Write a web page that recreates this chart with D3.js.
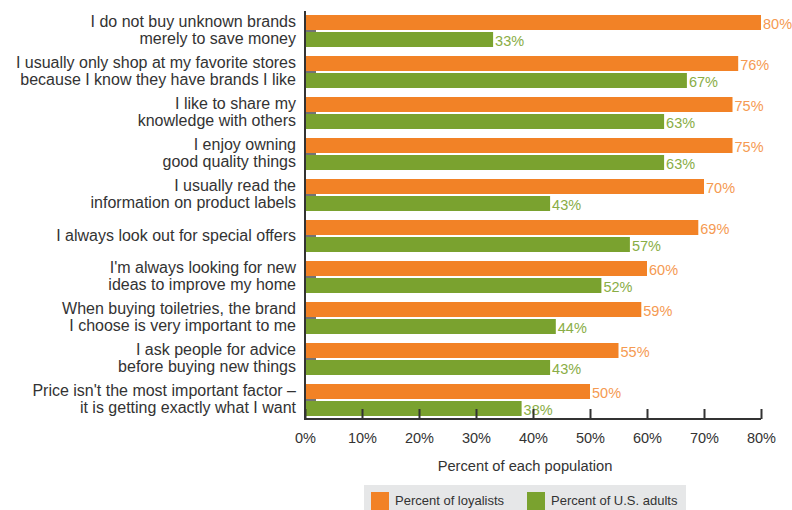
<!DOCTYPE html>
<html>
<head>
<meta charset="utf-8">
<title>Loyalists vs U.S. adults</title>
<script src="https://d3js.org/d3.v7.min.js"></script>
<style>
  body { margin: 0; background: #fff; }
  text { font-family: "Liberation Sans", Arial, sans-serif; }
</style>
</head>
<body>
<div id="chart"></div>
<script>
// ---- data ----
const categories = [
  ["I do not buy unknown brands", "merely to save money"],
  ["I usually only shop at my favorite stores", "because I know they have brands I like"],
  ["I like to share my", "knowledge with others"],
  ["I enjoy owning", "good quality things"],
  ["I usually read the", "information on product labels"],
  ["I always look out for special offers"],
  ["I'm always looking for new", "ideas to improve my home"],
  ["When buying toiletries, the brand", "I choose is very important to me"],
  ["I ask people for advice", "before buying new things"],
  ["Price isn't the most important factor \u2013", "it is getting exactly what I want"]
];
const loyalists = [80, 76, 75, 75, 70, 69, 60, 59, 55, 50];
const usAdults  = [33, 67, 63, 63, 43, 57, 52, 44, 43, 38];
const xTicks = [0, 10, 20, 30, 40, 50, 60, 70, 80];
const seriesNames = ["Percent of loyalists", "Percent of U.S. adults"];

// ---- layout ----
const W = 792, H = 510;
const plotL = 305, plotR = 761, plotT = 11, plotB = 419;
const orange = "#f28226", green = "#7aa22f";
const orangeText = "#f59a52", greenText = "#89ad45";

const svg = d3.select("#chart").append("svg")
  .attr("width", W).attr("height", H);

const x = d3.scaleLinear().domain([0, 80]).range([plotL, plotR]);
// step 41px, two 15px bars with a 2px gap
const y = d3.scaleBand().domain(d3.range(categories.length))
  .range([15, 416]).paddingInner(9 / 41).paddingOuter(0);

const barH = (y.bandwidth() - 2) / 2;

// category ticks (behind bars)
svg.append("g").selectAll("line")
  .data(d3.range(categories.length)).join("line")
  .attr("x1", plotL).attr("x2", plotL + 11)
  .attr("y1", i => y(i) + barH + 1).attr("y2", i => y(i) + barH + 1)
  .attr("stroke", "#444").attr("stroke-width", 1.5);

const groups = svg.append("g").selectAll("g")
  .data(d3.range(categories.length)).join("g");

groups.append("rect")
  .attr("x", plotL).attr("y", i => y(i))
  .attr("width", i => x(loyalists[i]) - plotL).attr("height", barH)
  .attr("fill", orange);

groups.append("rect")
  .attr("x", plotL).attr("y", i => y(i) + barH + 2)
  .attr("width", i => x(usAdults[i]) - plotL).attr("height", barH)
  .attr("fill", green);

groups.append("text")
  .attr("x", i => x(loyalists[i]) + 2).attr("y", i => y(i) + barH - 1)
  .attr("font-size", 14.5).attr("fill", orangeText)
  .text(i => loyalists[i] + "%");

groups.append("text")
  .attr("x", i => x(usAdults[i]) + 2).attr("y", i => y(i) + 2 * barH + 1)
  .attr("font-size", 14.5).attr("fill", greenText)
  .text(i => usAdults[i] + "%");

// category labels
groups.append("text")
  .attr("text-anchor", "end").attr("font-size", 16).attr("fill", "#333")
  .each(function(i) {
    const lines = categories[i];
    const c = y(i) + y.bandwidth() / 2;
    const t = d3.select(this);
    lines.forEach((l, k) => {
      const off = lines.length === 1 ? 5 : (k === 0 ? -4 : 13);
      t.append("tspan").attr("x", 296).attr("y", c + off).text(l);
    });
  });

// x axis
const xAxis = d3.axisBottom(x).tickValues(xTicks)
  .tickFormat(d => d + "%").tickSize(-10).tickPadding(14);
const gx = svg.append("g").attr("transform", `translate(0,${plotB})`).call(xAxis);
gx.select(".domain").attr("stroke", "#333").attr("stroke-width", 2)
  .attr("d", `M${plotL},0H${plotR}`);
gx.selectAll(".tick line").attr("stroke", "#333").attr("stroke-width", 2);
gx.selectAll(".tick text").attr("font-size", 14.5).attr("fill", "#333")
  .attr("font-family", "Liberation Sans, Arial, sans-serif");

// y axis line
svg.append("line")
  .attr("x1", plotL).attr("x2", plotL).attr("y1", plotT).attr("y2", plotB + 1)
  .attr("stroke", "#333").attr("stroke-width", 2);

svg.append("text")
  .attr("x", 525).attr("y", 471)
  .attr("text-anchor", "middle").attr("font-size", 14.7).attr("fill", "#333")
  .text("Percent of each population");

// legend
const lg = svg.append("g");
lg.append("rect").attr("x", 364).attr("y", 485).attr("width", 322).attr("height", 30)
  .attr("fill", "#e6e7e8");
const legendX = [371, 527];
[orange, green].forEach((c, k) => {
  lg.append("rect").attr("x", legendX[k]).attr("y", 492).attr("width", 18).attr("height", 18)
    .attr("fill", c);
  lg.append("text").attr("x", legendX[k] + 24).attr("y", 505)
    .attr("font-size", 13).attr("fill", "#333").text(seriesNames[k]);
});
</script>
</body>
</html>
